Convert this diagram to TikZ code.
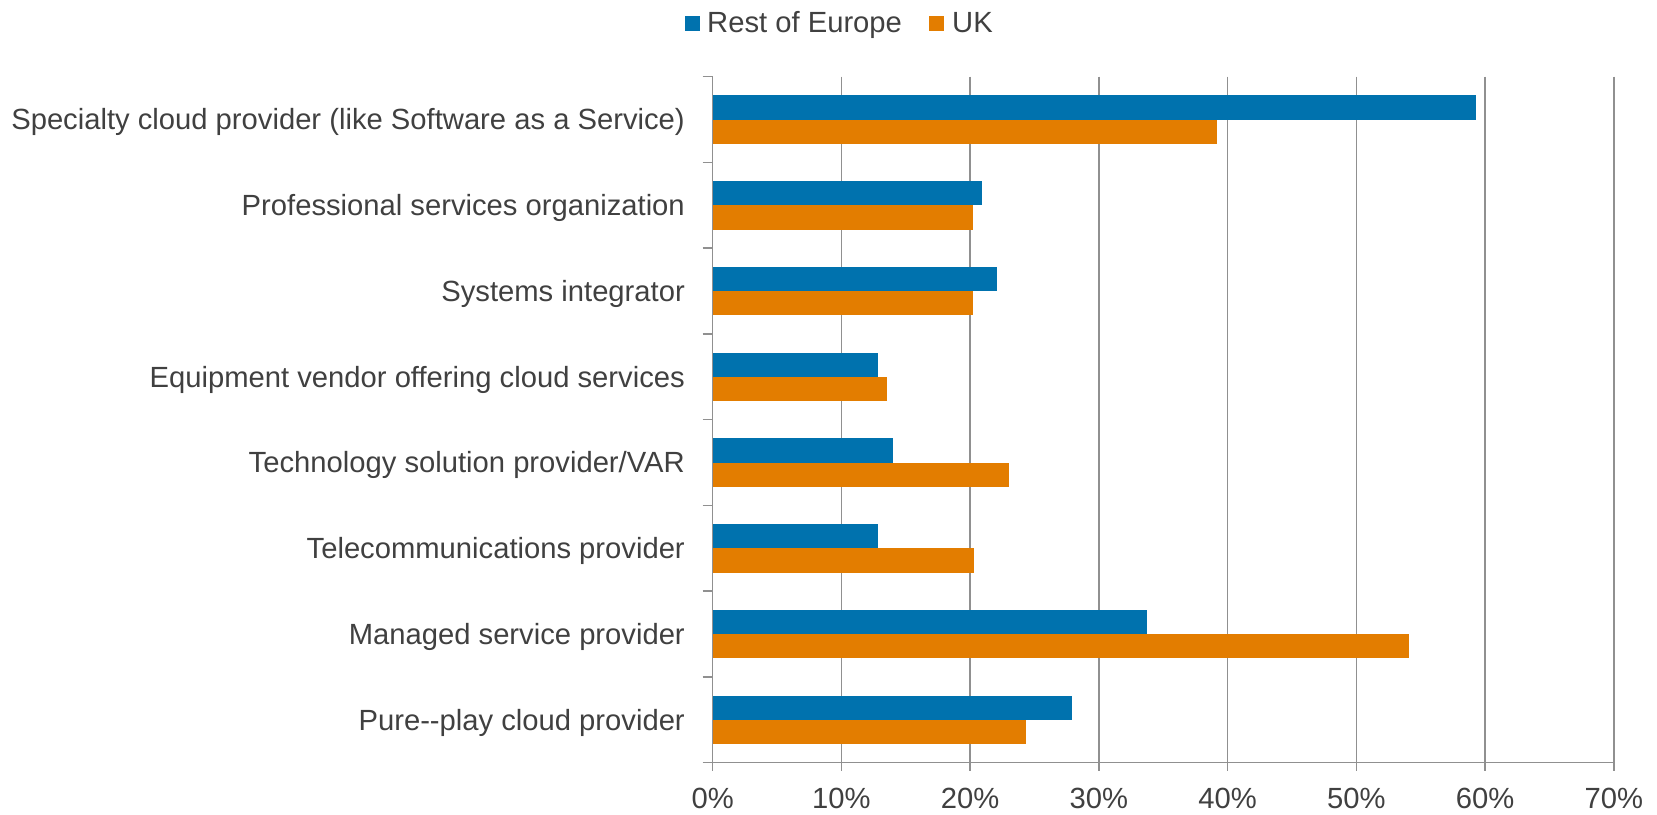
\documentclass[tikz,border=0pt]{standalone}
\usepackage{fontspec}
\setmainfont{Liberation Sans}
\definecolor{euroblue}{HTML}{0072AE}
\definecolor{ukorange}{HTML}{E37D00}
\definecolor{gridgray}{HTML}{909090}
\definecolor{txtgray}{HTML}{404040}
\begin{document}
\begin{tikzpicture}[x=1pt,y=-1pt,
  lbl/.style={inner sep=0pt,text=txtgray,font=\fontsize{29.2}{34}\selectfont},
  gridln/.style={draw=gridgray,line width=1.5pt},
  bluebar/.style={fill=euroblue},
  orangebar/.style={fill=ukorange}]
\useasboundingbox (0,0) rectangle (1657,814);
\pgfmathsetmacro{\xz}{712.7}
\pgfmathsetmacro{\xs}{12.875}
\pgfmathsetmacro{\ytop}{76.7}
\pgfmathsetmacro{\band}{85.75}
\pgfmathsetmacro{\ybot}{762.7}
% gridlines and x tick labels
\foreach \k in {0,...,7}{
  \pgfmathsetmacro{\gx}{\xz+\k*10*\xs}
  \ifnum\k>0 \draw[gridln] (\gx,\ytop) -- (\gx,\ybot); \fi
  \draw[gridln] (\gx,\ybot) -- (\gx,771);
  \pgfmathtruncatemacro{\pc}{\k*10}
  \node[lbl,anchor=base] (xt\k) at (\gx,808) {\pc\%};
}
% bars and category labels
\foreach \i/\b/\o/\t in {
  0/59.3/39.2/{Specialty cloud provider (like Software as a Service)},
  1/20.9/20.2/{Professional services organization},
  2/22.1/20.2/{Systems integrator},
  3/12.8/13.5/{Equipment vendor offering cloud services},
  4/14.0/23.0/{Technology solution provider/VAR},
  5/12.8/20.3/{Telecommunications provider},
  6/33.7/54.1/{Managed service provider},
  7/27.9/24.3/{Pure-{}-play cloud provider}}{
  \pgfmathsetmacro{\c}{\ytop+\band*(\i+0.5)}
  \pgfmathsetmacro{\bx}{\xz+\b*\xs}
  \pgfmathsetmacro{\ox}{\xz+\o*\xs}
  \fill[bluebar] (\xz,\c-24.3) rectangle (\bx,\c);
  \fill[orangebar] (\xz,\c) rectangle (\ox,\c+24.3);
  \node[lbl,anchor=base east] (cat\i) at (685,\c+10.4) {\t};
}
% y ticks
\foreach \j in {0,...,8}{
  \pgfmathsetmacro{\ty}{\ytop+\band*\j}
  \draw[gridln] (702.7,\ty) -- (\xz,\ty);
}
% axes
\coordinate (o) at (\xz,\ybot);
\coordinate (ytopc) at (\xz,\ytop);
\coordinate (xend) at (\xz+70*\xs,\ybot);
\draw[gridln] (ytopc) -- (o) -- (xend);
% legend
\fill[euroblue] (685,16) rectangle (700,30.7);
\node[lbl,anchor=base west] (legA) at (707,32.7) {Rest of Europe};
\fill[ukorange] (929,16) rectangle (944,30.7);
\node[lbl,anchor=base west] (legB) at (952,32.7) {UK};
\end{tikzpicture}
\end{document}
